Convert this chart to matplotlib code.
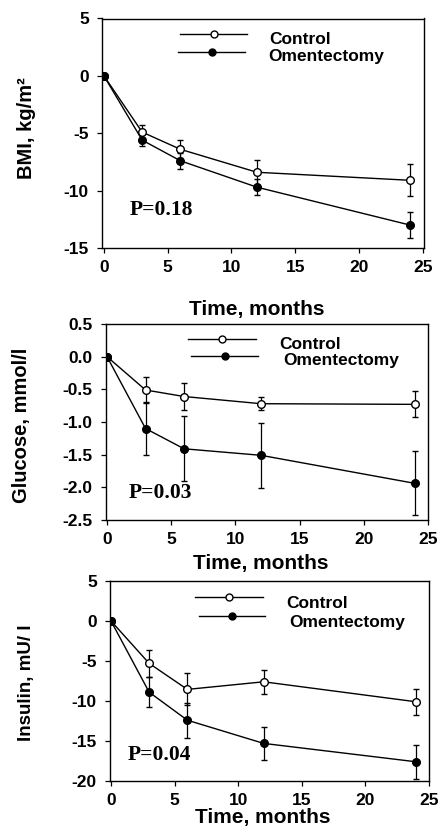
import matplotlib
matplotlib.use("Agg")
import matplotlib.pyplot as plt

plt.rcParams['font.family'] = ['Liberation Sans', 'DejaVu Sans']
plt.rcParams['axes.unicode_minus'] = False

# ---------------- data ----------------
months = [0, 3, 6, 12, 24]

bmi_control = [0, -4.9, -6.4, -8.4, -9.1]
bmi_control_err = [0, 0.6, 0.8, 1.1, 1.4]
bmi_oment = [0, -5.6, -7.4, -9.7, -13.0]
bmi_oment_err = [0, 0.5, 0.7, 0.7, 1.1]

glu_control = [0, -0.51, -0.61, -0.72, -0.73]
glu_control_err = [0, 0.2, 0.2, 0.1, 0.2]
glu_oment = [0, -1.10, -1.41, -1.51, -1.94]
glu_oment_err = [0, 0.4, 0.5, 0.5, 0.49]

ins_control = [0, -5.3, -8.55, -7.6, -10.1]
ins_control_err = [0, 1.7, 2.0, 1.5, 1.6]
ins_oment = [0, -8.9, -12.4, -15.3, -17.6]
ins_oment_err = [0, 1.9, 2.2, 2.1, 2.1]

p_values = ["P=0.18", "P=0.03", "P=0.04"]
ylabels = ["BMI, kg/m²", "Glucose, mmol/l", "Insulin, mU/ l"]
xlabel = "Time, months"
legend_labels = ["Control", "Omentectomy"]
xticks = [0, 5, 10, 15, 20, 25]
yticks_list = [[5, 0, -5, -10, -15],
               [0.5, 0.0, -0.5, -1.0, -1.5, -2.0, -2.5],
               [5, 0, -5, -10, -15, -20]]
ytick_fmt = ["{:d}", "{:.1f}", "{:d}"]

# ---------------- layout (figure pixels) ----------------
W, H = 440, 831
fig = plt.figure(figsize=(W / 100, H / 100), dpi=100)

def frac_box(l, t, r, b):
    return [l / W, 1 - b / H, (r - l) / W, (b - t) / H]

panels = [
    dict(box=(102, 18.5, 424, 248), xlim=(-0.15, 25.1), ylim=(-15, 5),
         ctl=bmi_control, ctle=bmi_control_err, om=bmi_oment, ome=bmi_oment_err,
         ylab_x=26, ylab_y=128, xlab_y=310,
         leg=((180, 247, 34), (178, 245, 52), (269, 40), (268, 57)),
         p=(130, 210), ylab_fs=14.5),
    dict(box=(106, 324, 428, 520), xlim=(-0.08, 25.0), ylim=(-2.5, 0.5),
         ctl=glu_control, ctle=glu_control_err, om=glu_oment, ome=glu_oment_err,
         ylab_x=21, ylab_y=425, xlab_y=563,
         leg=((188, 256, 339), (191, 258, 356), (279, 344), (283, 361)),
         p=(129, 493), ylab_fs=14.5),
    dict(box=(110, 581, 429, 781), xlim=(-0.08, 25.0), ylim=(-20, 5),
         ctl=ins_control, ctle=ins_control_err, om=ins_oment, ome=ins_oment_err,
         ylab_x=27, ylab_y=683, xlab_y=817,
         leg=((195, 263, 597), (199, 265, 616), (286, 603), (289, 622)),
         p=(128, 755), ylab_fs=13.5),
]

def fx(px):
    return px / W

def fy(py):
    return 1 - py / H

for i, pnl in enumerate(panels):
    l, t, r, b = pnl['box']
    ax = fig.add_axes(frac_box(l, t, r, b))
    ax.set_xlim(*pnl['xlim'])
    ax.set_ylim(*pnl['ylim'])

    ax.errorbar(months, pnl['ctl'], yerr=pnl['ctle'], color='black', lw=1.0,
                marker='o', ms=5.5, mfc='white', mec='black', mew=1.0,
                elinewidth=0.9, capsize=2.2, capthick=0.9, zorder=3)
    ax.errorbar(months, pnl['om'], yerr=pnl['ome'], color='black', lw=1.0,
                marker='o', ms=5.5, mfc='black', mec='black', mew=1.0,
                elinewidth=0.9, capsize=2.2, capthick=0.9, zorder=3)

    ax.set_xticks(xticks)
    ax.set_xticklabels([str(v) for v in xticks])
    yt = yticks_list[i]
    ax.set_yticks(yt)
    ax.set_yticklabels([ytick_fmt[i].format(v) for v in yt])
    ax.tick_params(axis='both', direction='out', length=3.5, width=0.9,
                   labelsize=12.5)
    ax.tick_params(axis='y', pad=6)
    ax.tick_params(axis='x', pad=5)
    for lab in ax.get_xticklabels() + ax.get_yticklabels():
        lab.set_fontweight('bold')
    for sp in ax.spines.values():
        sp.set_linewidth(1.0)
        sp.set_color('black')

    ax.set_xlabel(xlabel, fontsize=15, fontweight='bold', va='center')
    ax.xaxis.set_label_coords(0.48, (b - pnl['xlab_y']) / (b - t))
    ax.set_ylabel(ylabels[i], fontsize=pnl['ylab_fs'], fontweight='bold',
                  va='center', ha='center')
    ax.yaxis.set_label_coords((pnl['ylab_x'] - l) / (r - l),
                              (b - pnl['ylab_y']) / (b - t))

    # legend drawn as sample lines with centred markers
    (c0, c1, cy), (o0, o1, oy), (ctx, cty), (otx, oty) = pnl['leg']
    fig.add_artist(plt.Line2D([fx(c0), fx(c1)], [fy(cy), fy(cy)],
                              color='black', lw=1.0, transform=fig.transFigure))
    fig.add_artist(plt.Line2D([fx((c0 + c1) / 2)], [fy(cy)], marker='o', ms=5,
                              mfc='white', mec='black', mew=1.0, lw=0,
                              transform=fig.transFigure))
    fig.add_artist(plt.Line2D([fx(o0), fx(o1)], [fy(oy), fy(oy)],
                              color='black', lw=1.0, transform=fig.transFigure))
    fig.add_artist(plt.Line2D([fx((o0 + o1) / 2)], [fy(oy)], marker='o', ms=5,
                              mfc='black', mec='black', mew=1.0, lw=0,
                              transform=fig.transFigure))
    fig.text(fx(ctx), fy(cty), legend_labels[0], fontsize=12.5,
             fontweight='bold', ha='left', va='center')
    fig.text(fx(otx), fy(oty), legend_labels[1], fontsize=12.5,
             fontweight='bold', ha='left', va='center')

    # P value
    fig.text(fx(pnl['p'][0]), fy(pnl['p'][1]), p_values[i],
             family=['Liberation Serif', 'DejaVu Serif'], fontsize=15.5,
             fontweight='bold', ha='left', va='center')

fig.savefig("out.png", dpi=100)
